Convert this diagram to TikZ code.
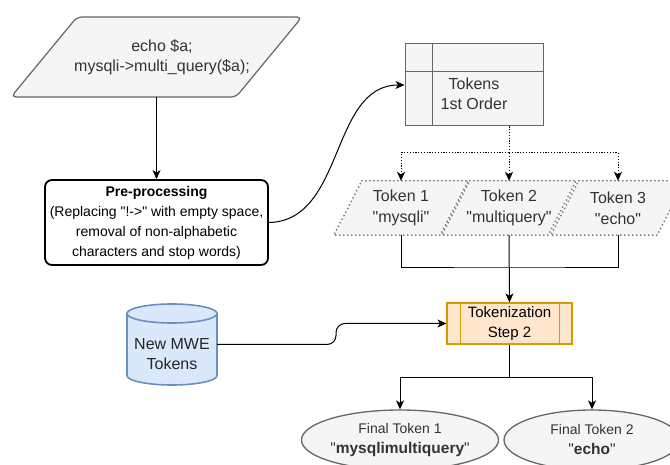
\documentclass[tikz,border=0pt]{standalone}
\usepackage{fontspec}
\setmainfont{Liberation Sans}[Ligatures=TeXOff]
\usetikzlibrary{arrows.meta,calc,shapes.geometric}
\definecolor{greyfill}{HTML}{F5F5F5}
\definecolor{greyline}{HTML}{666666}
\definecolor{greytext}{HTML}{333333}
\definecolor{orfill}{HTML}{FFE6CC}
\definecolor{orline}{HTML}{D79B00}
\definecolor{blfill}{HTML}{DAE8FC}
\definecolor{blline}{HTML}{6C8EBF}
\definecolor{dotgrey}{HTML}{7A7A7A}
\pgfdeclarelayer{background}
\pgfsetlayers{background,main}
\newcommand{\fs}[2]{\fontsize{#1}{#2}\selectfont}

\begin{document}
\begin{tikzpicture}[x=1pt,y=-1pt,
  lbl/.style={align=center, inner sep=0pt, text=greytext},
  tip/.style={-{Stealth[length=9pt,width=8pt,inset=2.5pt]}},
  link/.style={draw=black, line width=1pt},
  conn/.style={link, tip},
  dotconn/.style={draw=black, line width=1pt, dash pattern=on 1.2pt off 1.6pt, tip},
  greyshape/.style={draw=greyline, fill=greyfill, line width=1pt},
  tokline/.style={draw=dotgrey, fill=greyfill, line width=2pt,
    dash pattern=on 0pt off 4pt, line cap=round},
  tokbox/.style={lbl, minimum width=106, minimum height=54, font=\fs{16}{21}},
  finalbox/.style={ellipse, greyshape, line width=1.3pt, inner sep=0pt,
    minimum width=176, minimum height=60, align=center, text=greytext,
    font=\fs{14}{20}},
]
\useasboundingbox (0,0) rectangle (670,465);
\clip (0,0) rectangle (670,465);

% source code parallelogram
\draw[greyshape, line width=1.2pt, rounded corners=5] (190,17) -- (302,17)
  -- (236,97) -- (11,97) -- (77,17) -- cycle;
\node[lbl, minimum height=80, font=\fs{16}{20}] (src) at (162,57)
  {echo \$a;\\mysqli->multi\_query(\$a);};

% pre-processing step
\node[draw=black, line width=1.8pt, rounded corners=7, minimum width=223,
  minimum height=85, inner sep=0pt, align=center, font=\fs{14}{20}] (pre)
  at (156.5,222.5)
  {\textbf{Pre-processing}\\(Replacing "!->" with empty space,\\removal of non-alphabetic\\characters and stop words)};
\draw[conn] (pre.north |- src.south) -- (pre.north);

% first-order token table
\node[greyshape, minimum width=138, minimum height=82, inner sep=0pt] (tok)
  at (474,85) {};
\draw[draw=greyline, line width=1pt]
  ($(tok.north west)+(0,28)$) -- ($(tok.north east)+(0,28)$)
  ($(tok.north west)+(28,0)$) -- ($(tok.south west)+(28,0)$);
\node[lbl, font=\fs{16}{20}] (toklbl) at (474,94) {Tokens\\1st Order};
\draw[conn] (pre.east) .. controls (345,221) and (330,85) .. (tok.west);

% tokens of the first pass
\node[tokbox] (t1) at (401,208) {Token 1\\"mysqli"};
\node[tokbox] (t2) at (509,208) {Token 2\\"multiquery"};
\node[tokbox] (t3) at (618,208) {Token 3\\"echo"};
\begin{pgfonlayer}{background}
  \foreach \n in {t1,t2,t3}
    \draw[tokline] ($(\n.north west)+(14,0)$) -- ($(\n.north east)+(14,0)$)
      -- ($(\n.south east)+(-14,0)$) -- ($(\n.south west)+(-14,0)$) -- cycle;
\end{pgfonlayer}
\coordinate (fork) at (509,153);
\draw[dotconn, -] (tok.south -| fork) -- (fork);
\draw[dotconn] (fork) -| (t1.north);
\draw[dotconn] (fork) -- (t2.north);
\draw[dotconn] (fork) -| (t3.north);

% second tokenization step
\node[draw=orline, fill=orfill, line width=1.2pt, minimum width=125,
  minimum height=41, inner sep=0pt, align=center, font=\fs{15}{20}] (tz)
  at (509.5,323.5) {Tokenization\\Step 2};
\draw[draw=orline, line width=1.2pt]
  ($(tz.north west)+(14,0)$) -- ($(tz.south west)+(14,0)$)
  ($(tz.north east)+(-13,0)$) -- ($(tz.south east)+(-13,0)$);
\coordinate (merge) at (509,268);
\draw[link] (t1.south) |- (merge) -| (t3.south);
\draw[conn] (t2.south) -- (tz.north);

% multi-word expression store
\draw[draw=blline, fill=blfill, line width=1.6pt]
  (127,313.5) -- (127,375.5)
  arc[start angle=180, end angle=0, x radius=45, y radius=9.5]
  -- (217,313.5)
  arc[start angle=0, end angle=-180, x radius=45, y radius=9.5] -- cycle;
\draw[draw=blline, line width=1.6pt]
  (127,313.5) arc[start angle=180, end angle=0, x radius=45, y radius=9.5];
\node[inner sep=0pt, minimum width=90, minimum height=81] (mwe) at (172,344.5) {};
\node[lbl, text=black!85, font=\fs{16}{20}] (mwelbl) at (172,354.5) {New MWE\\Tokens};
\coordinate (bend) at (336,323.5);
\draw[conn, rounded corners=9] (mwe.east) -| (bend) -- (tz.west);

% final tokens
\node[finalbox] (f1) at (400,440)
  {Final Token 1\\{\fontsize{15.5}{20}\selectfont"\textbf{mysqlimultiquery}"}};
\node[finalbox] (f2) at (592,440)
  {Final Token 2\\{\fontsize{15.5}{20}\selectfont"\textbf{echo}"}};
\coordinate (split) at (509.5,377);
\draw[link] (tz.south) -- (split);
\draw[conn] (split) -| (f1.north);
\draw[conn] (split) -| (f2.north);
\end{tikzpicture}
\end{document}
